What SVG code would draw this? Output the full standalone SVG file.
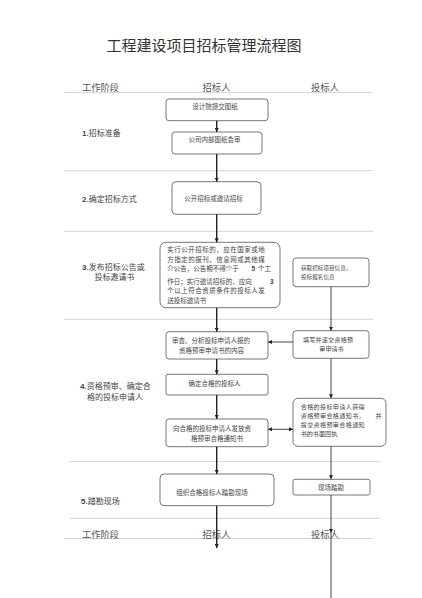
<svg xmlns="http://www.w3.org/2000/svg" width="422" height="598" viewBox="0 0 422 598">
<style>
.cjk{font-family:"Noto Sans CJK SC","Liberation Sans",sans-serif;}
.title{font-size:15px;fill:#333;}
.hdr{font-size:9.3px;fill:#555;}
.stage{font-size:8px;fill:#444;}
.num{font-family:"Liberation Sans",sans-serif;font-weight:bold;}
.bt{font-size:6.5px;fill:#444;}
.bs{font-size:6.1px;}
.box{fill:#fff;stroke:#666;stroke-width:0.9;}
.hl{stroke:#cfcfcf;stroke-width:0.9;}
.c1{stroke:#222;stroke-width:1.4;fill:none;}
.c2{stroke:#444;stroke-width:1;fill:none;}
</style>
<defs>
<marker id="ah" viewBox="0 0 10 10" refX="10" refY="5" markerWidth="4" markerHeight="4" markerUnits="userSpaceOnUse" orient="auto-start-reverse">
<path d="M0,0 L10,5 L0,10 z" fill="#222"/>
</marker>
</defs>
<rect width="422" height="598" fill="#fff"/>
<text class="cjk title" x="204" y="50.5" text-anchor="middle">工程建设项目招标管理流程图</text>
<g id="lines">
<line class="hl" x1="64" y1="92.7" x2="373" y2="92.7"/>
<line class="hl" x1="64" y1="170.7" x2="373" y2="170.7"/>
<line class="hl" x1="64" y1="231.3" x2="373" y2="231.3"/>
<line class="hl" x1="64" y1="319.3" x2="373" y2="319.3"/>
<line class="hl" x1="70" y1="461.7" x2="381" y2="461.7"/>
<line class="hl" x1="70" y1="518.3" x2="381" y2="518.3"/>
<line class="hl" x1="64" y1="538.5" x2="373" y2="538.5"/>
</g>
<g id="header">
<text class="cjk hdr" x="100.5" y="91" text-anchor="middle">工作阶段</text>
<text class="cjk hdr" x="216.5" y="91" text-anchor="middle">招标人</text>
<text class="cjk hdr" x="325" y="91" text-anchor="middle">投标人</text>
</g>
<g id="footer">
<text class="cjk hdr" x="100.5" y="537.5" text-anchor="middle">工作阶段</text>
<text class="cjk hdr" x="216.5" y="537.5" text-anchor="middle">招标人</text>
<text class="cjk hdr" x="325" y="537.5" text-anchor="middle">投标人</text>
</g>
<g id="stages">
<text class="cjk stage" x="82" y="136"><tspan class="num">1</tspan>.招标准备</text>
<text class="cjk stage" x="82" y="202"><tspan class="num">2</tspan>.确定招标方式</text>
<text class="cjk stage" x="82" y="270"><tspan class="num">3</tspan>.发布招标公告或</text>
<text class="cjk stage" x="114.5" y="280" text-anchor="middle">投标邀请书</text>
<text class="cjk stage" x="80" y="389"><tspan class="num">4</tspan>.资格预审、确定合</text>
<text class="cjk stage" x="115" y="400" text-anchor="middle">格的投标申请人</text>
<text class="cjk stage" x="81" y="504"><tspan class="num">5</tspan>.踏勘现场</text>
</g>
<g id="n1">
<rect class="box" x="166" y="99" width="102" height="21.7" rx="3"/>
<text class="cjk bt" x="215" y="109.3" text-anchor="middle">设计院提交图纸</text>
</g>
<g id="n2">
<rect class="box" x="172" y="132" width="90" height="22" rx="3"/>
<text class="cjk bt" x="214.5" y="142.3" text-anchor="middle">公司内部图纸会审</text>
</g>
<g id="n3">
<rect class="box" x="172" y="181.7" width="89" height="32.6" rx="4"/>
<text class="cjk bt" x="213.5" y="201.3" text-anchor="middle">公开招标或邀请招标</text>
</g>
<g id="n4">
<rect class="box" x="160" y="242.3" width="120" height="65.4" rx="6"/>
<text class="cjk bt" x="167.3" y="252.3" textLength="97.5">实行公开招标的，应在国家或地</text>
<text class="cjk bt" x="167.3" y="261.6" textLength="97.5">方指定的报刊、信息网或其他媒</text>
<text class="cjk bt" x="167.3" y="270.9">介公告，公告期不得少于</text>
<text class="cjk bt num" x="251.5" y="270.9">5</text>
<text class="cjk bt" x="258" y="270.9">个工</text>
<text class="cjk bt" x="167.3" y="284">作日；实行邀请招标的，应向</text>
<text class="cjk bt num" x="270" y="284">3</text>
<text class="cjk bt" x="167.3" y="293.4" textLength="97.5">个以上符合资质条件的投标人发</text>
<text class="cjk bt" x="167.3" y="302.9">送投标邀请书</text>
</g>
<g id="n5">
<rect class="box" x="293" y="258" width="76" height="28.7" rx="3"/>
<text class="cjk bt" x="301" y="269.8" style="font-size:5.6px">获取招标项目信息，</text>
<text class="cjk bt" x="301" y="279.4" style="font-size:5.6px">投标报名信息</text>
</g>
<g id="n6">
<rect class="box" x="166" y="331.7" width="102" height="27.3" rx="3"/>
<text class="cjk bt" x="211" y="343" text-anchor="middle">审查、分析投标申请人报的</text>
<text class="cjk bt" x="211.5" y="352.5" text-anchor="middle">资格预审申请书的内容</text>
</g>
<g id="n7">
<rect class="box" x="293" y="330.7" width="76" height="27.6" rx="3"/>
<text class="cjk bt bs" x="328" y="341.8" text-anchor="middle" textLength="50">填写并递交资格预</text>
<text class="cjk bt bs" x="331.5" y="350.9" text-anchor="middle">审申请书</text>
</g>
<g id="n8">
<rect class="box" x="166" y="374.3" width="102" height="20.7" rx="2"/>
<text class="cjk bt" x="214.5" y="386" text-anchor="middle">确定合格的投标人</text>
</g>
<g id="n9">
<rect class="box" x="166" y="419" width="102" height="27.7" rx="3"/>
<text class="cjk bt" x="212" y="431.3" text-anchor="middle">向合格的投标申请人发放资</text>
<text class="cjk bt" x="217" y="440.8" text-anchor="middle">格预审合格通知书</text>
</g>
<g id="n10">
<rect class="box" x="293" y="398.3" width="93" height="48" rx="5"/>
<text class="cjk bt bs" x="300.7" y="409.2" textLength="64">合格的投标申请人获得</text>
<text class="cjk bt bs" x="300.7" y="418.2" textLength="64">资格预审合格通知书，</text>
<text class="cjk bt bs" x="375.5" y="418.2">并</text>
<text class="cjk bt bs" x="300.7" y="427.2" textLength="64">提交资格预审合格通知</text>
<text class="cjk bt bs" x="300.7" y="436.2">书的书面回执</text>
</g>
<g id="n11">
<rect class="box" x="160" y="474" width="114" height="31.7" rx="4"/>
<text class="cjk bt" x="212" y="494.6" text-anchor="middle">组织合格投标人踏勘现场</text>
</g>
<g id="n12">
<rect class="box" x="293" y="479.3" width="77" height="15.7" rx="2"/>
<text class="cjk bt" x="331" y="490.3" text-anchor="middle">现场踏勘</text>
</g>
<g id="connectors">
<line class="c1" x1="216.7" y1="120.7" x2="216.7" y2="132" marker-end="url(#ah)"/>
<line class="c1" x1="216.7" y1="154" x2="216.7" y2="181.7" marker-end="url(#ah)"/>
<line class="c1" x1="216.7" y1="214.3" x2="216.7" y2="242.3" marker-end="url(#ah)"/>
<line class="c1" x1="216.7" y1="307.7" x2="216.7" y2="331.7" marker-end="url(#ah)"/>
<line class="c1" x1="216.7" y1="359" x2="216.7" y2="374.3" marker-end="url(#ah)"/>
<line class="c1" x1="216.7" y1="395" x2="216.7" y2="419" marker-end="url(#ah)"/>
<line class="c1" x1="216.7" y1="446.7" x2="216.7" y2="474" marker-end="url(#ah)"/>
<line class="c1" x1="216.7" y1="505.7" x2="216.7" y2="548" marker-end="url(#ah)"/>
<line class="c2" x1="331" y1="286.7" x2="331" y2="330.7" marker-end="url(#ah)"/>
<line class="c2" x1="331" y1="358.3" x2="331" y2="398.3" marker-end="url(#ah)"/>
<line class="c2" x1="331" y1="446.3" x2="331" y2="479.3" marker-end="url(#ah)"/>
<line class="c2" x1="331" y1="495" x2="331" y2="533" marker-end="url(#ah)"/>
<line class="c2" x1="331" y1="533" x2="331" y2="598"/>
<line class="c2" x1="293" y1="342" x2="268" y2="342" marker-end="url(#ah)"/>
<line class="c2" x1="268" y1="429.3" x2="293" y2="429.3" marker-start="url(#ah)" marker-end="url(#ah)"/>
</g>
</svg>
